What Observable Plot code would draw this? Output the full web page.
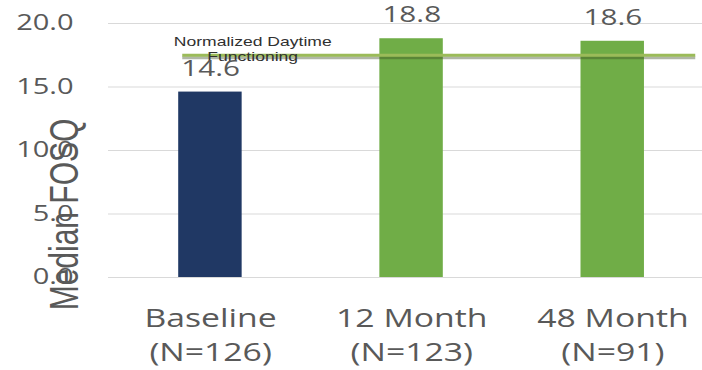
<!DOCTYPE html>
<html>
<head>
<meta charset="utf-8">
<script src="https://cdn.jsdelivr.net/npm/d3@7"></script>
<script src="https://cdn.jsdelivr.net/npm/@observablehq/plot@0.6"></script>
<style>
  html, body { margin: 0; padding: 0; background: #fff; overflow: hidden; }
  #chart svg { display: block; }
</style>
</head>
<body>
<div id="chart"></div>
<script>
// ---- data ----
const categories = ["Baseline", "12 Month", "48 Month"];
const nLabels = ["(N=126)", "(N=123)", "(N=91)"];
const values = [14.6, 18.8, 18.6];
const yTicks = [0, 5, 10, 15, 20];
const thresholdValue = [17.5];
const thresholdLabel = "Normalized Daytime\nFunctioning";
const yLabel = "Median FOSQ";

// ---- styles ----
const barColors = ["#203864", "#70ad47", "#70ad47"];
const stretch = 1.35;            // reference is horizontally stretched
const W = 702 / stretch, H = 370;
const mL = 80, step = 149.6;

const rows = categories.map((c, i) => ({ category: c, value: values[i], n: nLabels[i] }));
const tickText = new Map(categories.map((c, i) => [c, c + "\n" + nLabels[i]]));

const plot = Plot.plot({
  width: W,
  height: H,
  marginLeft: mL,
  marginRight: 0,
  marginTop: 23,
  marginBottom: 93,
  style: { fontFamily: "'Open Sans', sans-serif", background: "#fff" },
  x: {
    type: "band",
    domain: categories,
    range: [mL, mL + categories.length * step],
    paddingInner: 0.683,
    paddingOuter: 0.3415
  },
  y: { domain: [0, 20] },
  color: { domain: categories, range: barColors },
  marks: [
    Plot.gridY(yTicks, { stroke: "#d9d9d9", strokeOpacity: 1, strokeWidth: 1 }),
    Plot.barY(rows, { x: "category", y: "value", fill: "category" }),
    Plot.ruleY(thresholdValue, { stroke: "#3a4a20", strokeOpacity: 0.4, strokeWidth: 3, dy: 2.5, insetLeft: 55, insetRight: 5 }),
    Plot.ruleY(thresholdValue, { stroke: "#9bbb59", strokeWidth: 3, insetLeft: 55, insetRight: 5 }),
    Plot.text(thresholdValue, {
      y: d => d, frameAnchor: "left", textAnchor: "middle", dx: 106.7, dy: -7,
      text: () => thresholdLabel, lineAnchor: "middle", lineHeight: 1.15,
      fontFamily: "'Liberation Sans', Arial, sans-serif", fontSize: 13, fill: "#303030"
    }),
    Plot.text(rows, {
      x: "category", y: "value", text: d => d.value.toFixed(1),
      lineAnchor: "bottom", dy: -16.5, fontSize: 22, fill: "#595959"
    }),
    Plot.axisY({
      ticks: yTicks, tickFormat: d3.format(".1f"), tickSize: 0, tickPadding: 26,
      fontSize: 21.5, fill: "#595959", label: null
    }),
    Plot.axisX({
      tickFormat: d => tickText.get(d), tickSize: 0, tickPadding: 25,
      fontSize: 25, lineHeight: 1.37, fill: "#595959", label: null
    }),
    Plot.text([yLabel], {
      text: d => d, frameAnchor: "left", textAnchor: "middle", rotate: -90, dx: -32.6, dy: 64,
      fontFamily: "'Liberation Sans', Arial, sans-serif", fontSize: 30, fill: "#595959"
    })
  ]
});

plot.setAttribute("preserveAspectRatio", "none");
plot.style.width = "702px";
plot.style.height = "370px";
plot.style.maxWidth = "none";
document.getElementById("chart").appendChild(plot);
</script>
</body>
</html>
